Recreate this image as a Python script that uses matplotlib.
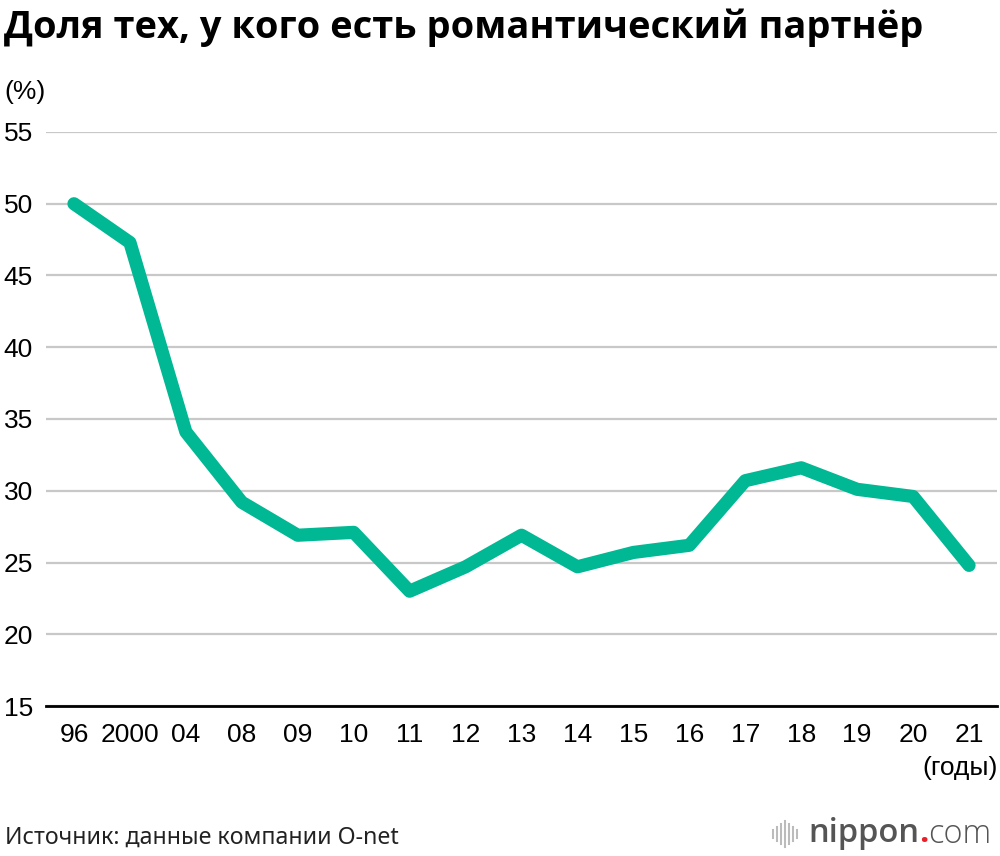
import matplotlib
matplotlib.use("Agg")
import matplotlib.pyplot as plt
from matplotlib.lines import Line2D

years = ["96", "2000", "04", "08", "09", "10", "11", "12", "13", "14", "15", "16", "17", "18", "19", "20", "21"]
share = [50.0, 47.3, 34.1, 29.2, 26.9, 27.1, 23.0, 24.7, 26.9, 24.7, 25.7, 26.2, 30.7, 31.6, 30.1, 29.6, 24.8]
yticks = [15, 20, 25, 30, 35, 40, 45, 50, 55]

title = "Доля тех, у кого есть романтический партнёр"
source = "Источник: данные компании O-net"

W, H = 1000, 856
fig = plt.figure(figsize=(W / 100, H / 100), dpi=100)
ax = fig.add_axes([46 / W, 150 / H, (997 - 46) / W, (706 - 132) / H])

xs = list(range(len(years)))
ax.plot(xs, share, color="#00B893", lw=9.5, solid_joinstyle="round", solid_capstyle="round", zorder=3)

ax.set_ylim(15, 55)
ax.set_xlim(-0.5, 16.5)
ax.set_yticks(yticks)
ax.set_xticks(xs)
ax.set_xticklabels(years)
ax.grid(axis="y", color="#c8c8c8", lw=1.6, zorder=1)
for s in ["top", "right", "left"]:
    ax.spines[s].set_visible(False)
ax.spines["bottom"].set_linewidth(2)
ax.spines["bottom"].set_color("black")
ax.spines["bottom"].set_zorder(4)
ax.tick_params(axis="both", length=0, labelsize=19)
ax.tick_params(axis="y", pad=30.5)
ax.tick_params(axis="x", pad=12)
for lab in ax.get_xticklabels() + ax.get_yticklabels():
    lab.set_fontfamily("Liberation Sans")
for lab in ax.get_yticklabels():
    lab.set_horizontalalignment("left")

fig.text(4 / W, 1 - 28 / H, title, fontsize=27.4, fontweight="bold", family="Open Sans",
         va="center", ha="left")
fig.text(4 / W, 1 - 92 / H, "(%)", fontsize=19, family="Liberation Sans", va="center", ha="left")
fig.text(998 / W, 1 - 768 / H, "(годы)", fontsize=19, family="Liberation Sans", va="center", ha="right")
fig.text(5 / W, 1 - 838 / H, source, fontsize=16.7, family="Noto Sans", va="center", ha="left", color="#222222")

# nippon.com logo
ly = 1 - 834 / H
t1 = fig.text(808 / W, ly, "nippon", fontsize=23.5, fontweight="semibold", family="Open Sans",
              color="#555555", va="center", ha="left")
fig.canvas.draw()
bb = t1.get_window_extent()
t2 = fig.text(bb.x1 / W, ly, ".", fontsize=23.5, fontweight="bold", family="Open Sans",
              color="#e8202a", va="center", ha="left")
fig.canvas.draw()
bb2 = t2.get_window_extent()
fig.text(bb2.x1 / W, ly, "com", fontsize=23.5, family="Open Sans",
         color="#555555", va="center", ha="left", fontweight="light")
bar_x = [773, 777, 781, 785, 789, 793, 797]
bar_h = [8, 14, 20, 26, 20, 14, 8]
for bx, bh in zip(bar_x, bar_h):
    fig.add_artist(Line2D([bx / W, bx / W], [(H - 834 - bh / 2) / H, (H - 834 + bh / 2) / H],
                          color="#bbbbbb", lw=1.5))

fig.savefig("out.png", dpi=100)
